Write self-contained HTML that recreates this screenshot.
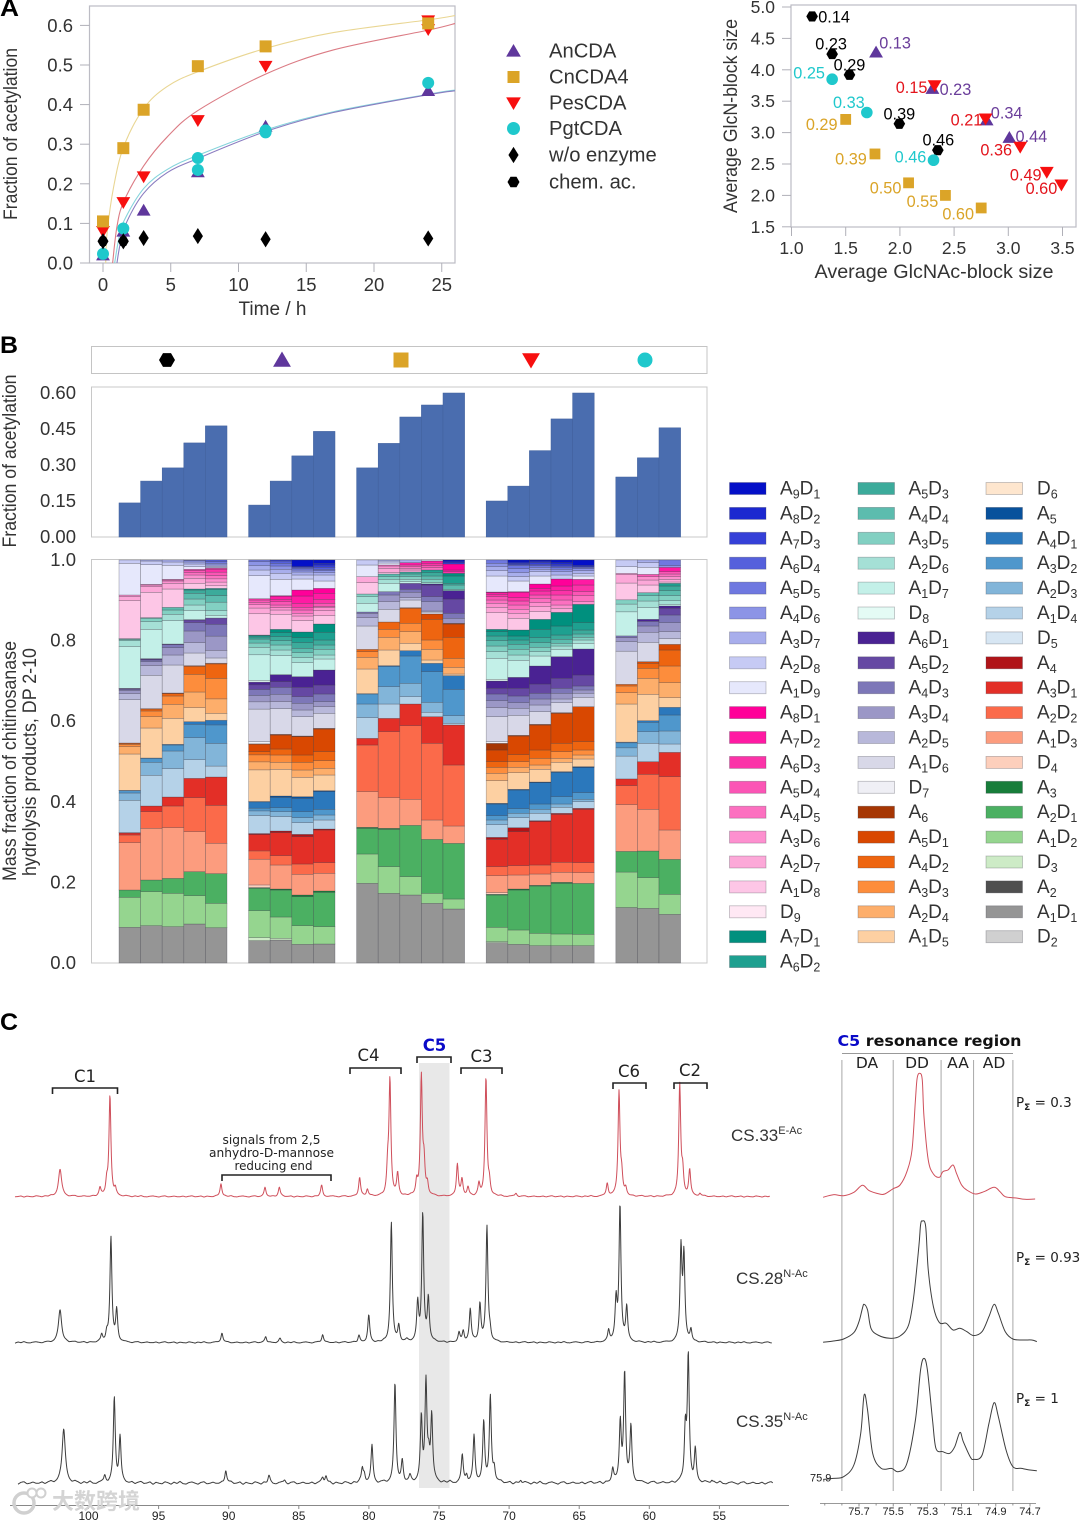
<!DOCTYPE html>
<html lang="en">
<head>
<meta charset="utf-8">
<title>Chitosan acetylation figure</title>
<style>
html,body{margin:0;padding:0;background:#fff;}
svg{display:block;font-family:"Liberation Sans","Noto Sans CJK SC",sans-serif;filter:blur(0.3px);}
.dj{font-family:"DejaVu Sans","Liberation Sans",sans-serif;}
</style>
</head>
<body>
<svg id="figure" xmlns="http://www.w3.org/2000/svg" width="1080" height="1521" viewBox="0 0 1080 1521">
  <rect x="0" y="0" width="1080" height="1521" fill="#fff"/>
  <text x="0" y="16" font-size="24" font-weight="bold" fill="#000" textLength="19" lengthAdjust="spacingAndGlyphs">A</text>
  <text x="0" y="353" font-size="24" font-weight="bold" fill="#000" textLength="18" lengthAdjust="spacingAndGlyphs">B</text>
  <text x="0" y="1030" font-size="24" font-weight="bold" fill="#000" textLength="18" lengthAdjust="spacingAndGlyphs">C</text>

  <!-- Panel A left -->
  <rect x="89.5" y="6" width="365.5" height="257" fill="#fff" stroke="#bcbcc4" stroke-width="1.2"/>
  <text transform="translate(17,134) rotate(-90)" text-anchor="middle" font-size="19" fill="#333" textLength="172" lengthAdjust="spacingAndGlyphs">Fraction of acetylation</text>
  <text x="272.5" y="315" text-anchor="middle" font-size="19" fill="#333">Time / h</text>
  <g id="timeAxes"></g>
  <g id="timeFits"></g>
  <g id="timePoints"></g>
  <g id="timeLegend"></g>

  <!-- Panel A right -->
  <rect x="791" y="5" width="285" height="222" fill="#fff" stroke="#bcbcc4" stroke-width="1.2"/>
  <text transform="translate(737,116) rotate(-90)" text-anchor="middle" font-size="19" fill="#333" textLength="194" lengthAdjust="spacingAndGlyphs">Average GlcN-block size</text>
  <text x="934" y="278" text-anchor="middle" font-size="19.5" fill="#333" textLength="239" lengthAdjust="spacingAndGlyphs">Average GlcNAc-block size</text>
  <g id="blockAxes"></g>
  <g id="blockPoints"></g>

  <!-- Panel B -->
  <rect x="91.5" y="346.5" width="615.5" height="27" fill="#fff" stroke="#c4c4c4" stroke-width="1"/>
  <g id="enzymeKey"></g>
  <rect x="91.5" y="387" width="615.5" height="150" fill="#fff" stroke="#c8c8c8" stroke-width="1"/>
  <rect x="91.5" y="559.5" width="615.5" height="403.5" fill="#fff" stroke="#c8c8c8" stroke-width="1"/>
  <text transform="translate(16,461) rotate(-90)" text-anchor="middle" font-size="19" fill="#333" textLength="173" lengthAdjust="spacingAndGlyphs">Fraction of acetylation</text>
  <text transform="translate(16,761) rotate(-90)" text-anchor="middle" font-size="19" fill="#333" textLength="240" lengthAdjust="spacingAndGlyphs">Mass fraction of chitinosanase</text>
  <text transform="translate(36,762) rotate(-90)" text-anchor="middle" font-size="19" fill="#333" textLength="228" lengthAdjust="spacingAndGlyphs">hydrolysis products, DP 2-10</text>
  <g id="barAxis"></g>
  <g id="bars"></g>
  <g id="stackAxis"></g>
  <g id="stacks"></g>
  <g id="stackLegend"></g>

  <!-- Panel C -->
  <rect x="419" y="1063" width="30.5" height="425" fill="#e8e8e8"/>
  <g id="spectra"></g>
  <g id="ppmAxis"></g>

  <g fill="none" stroke="#222" stroke-width="1.6">
    <path d="M52.5 1094V1088H117.5V1094"/>
    <path d="M350 1074V1068H401V1074"/>
    <path d="M417 1063V1057H451V1063"/>
    <path d="M461 1074V1068H502V1074"/>
    <path d="M613 1089V1083H646V1089"/>
    <path d="M674 1089V1083H707V1089"/>
    <path d="M222 1181V1175H331V1181"/>
  </g>
  <g class="dj" font-size="16.5" fill="#222" text-anchor="middle">
    <text x="85" y="1082">C1</text>
    <text x="368.5" y="1061">C4</text>
    <text x="434.5" y="1051" fill="#0a0ac8" font-weight="bold">C5</text>
    <text x="481.5" y="1062">C3</text>
    <text x="629" y="1077">C6</text>
    <text x="690" y="1076">C2</text>
  </g>
  <g class="dj" font-size="12" fill="#222" text-anchor="middle">
    <text x="271.5" y="1144" textLength="98" lengthAdjust="spacingAndGlyphs">signals from 2,5</text>
    <text x="271.5" y="1157" textLength="125" lengthAdjust="spacingAndGlyphs">anhydro-D-mannose</text>
    <text x="273.5" y="1170" textLength="78" lengthAdjust="spacingAndGlyphs">reducing end</text>
  </g>
  <g font-size="17" fill="#333">
    <text x="731" y="1141">CS.33<tspan font-size="11" dy="-7">E-Ac</tspan></text>
    <text x="736" y="1284">CS.28<tspan font-size="11" dy="-7">N-Ac</tspan></text>
    <text x="736" y="1427">CS.35<tspan font-size="11" dy="-7">N-Ac</tspan></text>
  </g>

  <!-- C5 inset -->
  <text class="dj" x="837.5" y="1046" font-size="15" font-weight="bold" fill="#111" textLength="184" lengthAdjust="spacingAndGlyphs"><tspan fill="#0a0ac8">C5</tspan> resonance region</text>
  <line x1="842" y1="1053.5" x2="1013" y2="1053.5" stroke="#999" stroke-width="1"/>
  <g class="dj" font-size="15.5" fill="#222" text-anchor="middle">
    <text x="867" y="1068">DA</text>
    <text x="917" y="1068">DD</text>
    <text x="958" y="1068">AA</text>
    <text x="994" y="1068">AD</text>
  </g>
  <g id="c5Dividers"></g>
  <g id="c5Traces"></g>
  <g id="c5Axis"></g>
  <g class="dj" font-size="13.5" fill="#222">
    <text x="1016" y="1107">P<tspan font-size="9" font-weight="bold" dy="3">Σ</tspan><tspan dy="-3"> = 0.3</tspan></text>
    <text x="1016" y="1262">P<tspan font-size="9" font-weight="bold" dy="3">Σ</tspan><tspan dy="-3"> = 0.93</tspan></text>
    <text x="1016" y="1403">P<tspan font-size="9" font-weight="bold" dy="3">Σ</tspan><tspan dy="-3"> = 1</tspan></text>
  </g>

  <!-- Watermark -->
  <g>
    <circle cx="24" cy="1503" r="10" fill="none" stroke="#d0d0d0" stroke-width="3.5"/>
    <circle cx="32" cy="1493" r="4.5" fill="#fff" stroke="#d0d0d0" stroke-width="2"/>
    <circle cx="41" cy="1493" r="4.5" fill="#fff" stroke="#d0d0d0" stroke-width="2"/>
    <text x="52" y="1509" font-size="22" font-weight="bold" fill="#d4d4d4" style="font-family:'Noto Sans CJK SC',sans-serif">大数跨境</text>
  </g>
</svg>

<script>
/* ---------- Panel A: time course data ---------- */
const timeTicks = [0, 5, 10, 15, 20, 25];
const fractionTicks = [0, 0.1, 0.2, 0.3, 0.4, 0.5, 0.6];
const anTimes = [0, 1.5, 3, 7, 12, 24];
const anValues = [0.02, 0.08, 0.133, 0.23, 0.345, 0.435];
const cnTimes = [0, 1.5, 3, 7, 12, 24];
const cnValues = [0.105, 0.29, 0.387, 0.497, 0.547, 0.605];
const pesTimes = [0, 1.5, 3, 7, 12, 24, 24];
const pesValues = [0.08, 0.153, 0.218, 0.36, 0.497, 0.59, 0.612];
const pgtTimes = [0, 1.5, 7, 7, 12, 12, 24];
const pgtValues = [0.023, 0.087, 0.265, 0.235, 0.335, 0.33, 0.455];
const noEnzymeTimes = [0, 1.5, 3, 7, 12, 24];
const noEnzymeValues = [0.055, 0.055, 0.063, 0.068, 0.06, 0.062];
const chemTimes = [0, 1.5];
const chemValues = [0.055, 0.055];
const cnFitTimes = [0.2, 0.3, 0.79, 1.53, 3, 4.7, 7, 12, 17, 24, 26];
const cnFitValues = [0, 0.075, 0.193, 0.294, 0.39, 0.445, 0.483, 0.542, 0.582, 0.614, 0.625];
const pesFitTimes = [0.71, 1.03, 1.53, 3, 4.73, 7, 12, 17, 24, 26];
const pesFitValues = [0, 0.092, 0.155, 0.245, 0.318, 0.385, 0.477, 0.538, 0.588, 0.605];
const pgtFitTimes = [0.86, 1.16, 1.53, 3, 4.73, 7, 12, 17, 24, 26];
const pgtFitValues = [0, 0.06, 0.105, 0.188, 0.236, 0.272, 0.336, 0.382, 0.426, 0.437];
const anFitTimes = [1.03, 1.28, 1.77, 3, 4.73, 7, 12, 17, 24, 26];
const anFitValues = [0, 0.05, 0.105, 0.176, 0.228, 0.264, 0.332, 0.38, 0.425, 0.435];
const timeLegendLabels = ['AnCDA', 'CnCDA4', 'PesCDA', 'PgtCDA', 'w/o enzyme', 'chem. ac.'];

/* ---------- Panel A: block size data ---------- */
const blockXTicks = [1.0, 1.5, 2.0, 2.5, 3.0, 3.5];
const blockYTicks = [1.5, 2.0, 2.5, 3.0, 3.5, 4.0, 4.5, 5.0];
const chemGlcNAc = [1.19, 1.375, 1.535, 1.995, 2.35];
const chemGlcN = [4.85, 4.25, 3.92, 3.14, 2.72];
const chemLabels = ['0.14', '0.23', '0.29', '0.39', '0.46'];
const anGlcNAc = [1.78, 2.3, 2.8, 3.01];
const anGlcN = [4.28, 3.7, 3.2, 2.92];
const anLabels = ['0.13', '0.23', '0.34', '0.44'];
const pesGlcNAc = [2.32, 2.79, 3.11, 3.355, 3.49];
const pesGlcN = [3.75, 3.22, 2.77, 2.37, 2.17];
const pesLabels = ['0.15', '0.21', '0.36', '0.49', '0.60'];
const pgtGlcNAc = [1.375, 1.695, 2.31];
const pgtGlcN = [3.85, 3.32, 2.56];
const pgtLabels = ['0.25', '0.33', '0.46'];
const cnGlcNAc = [1.5, 1.77, 2.08, 2.42, 2.75];
const cnGlcN = [3.21, 2.66, 2.2, 2.0, 1.8];
const cnLabels = ['0.29', '0.39', '0.50', '0.55', '0.60'];

/* ---------- Panel B data ---------- */
const barTicks = [0, 0.15, 0.30, 0.45, 0.60];
const stackTicks = [0, 0.2, 0.4, 0.6, 0.8, 1.0];
const chemBars = [0.142, 0.233, 0.288, 0.392, 0.463];
const anBars = [0.133, 0.233, 0.338, 0.44];
const cnBars = [0.288, 0.39, 0.5, 0.55, 0.6];
const pesBars = [0.15, 0.212, 0.36, 0.492, 0.6];
const pgtBars = [0.25, 0.33, 0.455];
const barGroups = [chemBars, anBars, cnBars, pesBars, pgtBars];

const legendNames = ['A9D1','A8D2','A7D3','A6D4','A5D5','A4D6','A3D7','A2D8','A1D9','A8D1','A7D2','A6D3','A5D4','A4D5','A3D6','A2D7','A1D8','D9','A7D1','A6D2','A5D3','A4D4','A3D5','A2D6','A1D7','D8','A6D1','A5D2','A4D3','A3D4','A2D5','A1D6','D7','A6','A5D1','A4D2','A3D3','A2D4','A1D5','D6','A5','A4D1','A3D2','A2D3','A1D4','D5','A4','A3D1','A2D2','A1D3','D4','A3','A2D1','A1D2','D3','A2','A1D1','D2'];
const legendColors = ['#0410c8','#1c28d0','#3540d8','#5560dc','#6f78e0','#8c94e6','#a8aeec','#c6caf4','#e6e8fc','#ff0099','#ff1aa3','#fb33a8','#fb55b5','#fc70c0','#fd90cf','#fca8d8','#fdc6e6','#ffe8f4','#00907e','#1ea090','#3cab9b','#5cbcae','#82d0c2','#a5e0d6','#c3f0e8','#e4fbf5','#4a2293','#6548a3','#7d77b8','#9b97c6','#b8b8da','#d8d8e8','#efeff5','#a63603','#d94801','#ee6510','#fd8d3c','#fdae6b','#fdd0a2','#fee6ce','#08519c','#2b78bc','#4f97cc','#82b5d9','#b5d2e8','#d7e6f3','#b01418','#e32f27','#fb6a4a','#fc9c7e','#fdcfbc','#177d3a','#4bb062','#95d58f','#cdebc6','#4f4f4f','#959595','#d0d0d0'];

/* Relative mass per product, bottom of stack to top, grouped by degree of polymerisation 2..10 */
const chem1 = [[0,107,0],[0,90,22,0],[0,142,23,6,1],[0,97,22,7,1,0],[0,109,22,7,3,1,0],[0,130,18,10,3,2,1],[0,125,18,4,1,1,0,0],[0,114,12,5,0,0,0,0,0],[95,10,0,0,0,0,0,0,0]];
const chem2 = [[0,112,0],[0,102,35,0],[0,155,50,17,0],[0,92,39,12,1,0],[0,90,34,17,6,1,0],[0,100,29,12,5,2,2],[0,88,23,10,2,0,0,0],[0,76,17,5,2,0,0,0,0],[59,11,3,0,0,0,0,0,0]];
const chem3 = [[0,109,0],[0,100,45,0],[0,152,65,27,0],[0,85,53,18,2,0],[0,78,42,25,7,2,0],[0,84,30,22,9,2,0],[0,70,19,13,8,0,0,0],[0,55,17,7,3,2,0,0,0],[42,10,6,0,0,0,0,0,0]];
const chem4 = [[0,117,0],[0,85,72,0],[0,120,102,58,0],[0,56,66,40,8,0],[0,42,47,53,24,2,0],[0,38,31,35,25,8,1],[0,27,17,18,17,10,3,0],[0,17,15,10,7,6,4,0,0],[8,8,6,4,2,0,0,0,0]];
const chem5 = [[0,107,0],[0,74,90,0],[0,92,115,86,0],[0,33,69,56,14,0],[0,21,44,62,44,2,0],[0,16,23,43,36,19,0],[0,8,15,25,20,18,4,0],[0,8,11,10,10,10,9,3,0],[2,4,4,5,5,5,0,0,0]];
const an1 = [[0,67,0],[9,81,67,2],[8,77,25,49,3],[0,54,14,8,19,1],[0,95,24,21,10,22,1],[7,97,22,19,18,14,8],[5,77,22,13,12,6,4,2],[0,64,17,10,7,7,4,0,0],[69,17,13,12,5,0,0,0,0]];
const an2 = [[0,69,0],[5,64,81,3],[0,72,28,69,5],[0,43,15,12,31,4],[0,80,21,22,18,42,2],[0,77,21,22,21,17,21],[0,57,17,15,13,12,12,10],[0,45,13,7,8,10,7,8,3],[49,18,12,10,8,7,3,0,0]];
const an3 = [[0,56,0],[0,56,87,5],[0,62,31,82,7],[0,35,15,18,40,5],[0,58,22,23,22,55,2],[0,58,20,20,20,28,32],[0,42,15,15,13,17,15,17],[0,34,14,8,10,8,12,22,18],[33,12,9,6,5,3,2,0,20]];
const an4 = [[0,57,0],[0,52,103,4],[0,53,32,98,3],[0,27,15,17,53,3],[0,47,20,23,27,68,2],[0,45,20,15,23,27,45],[0,33,12,17,13,15,23,25],[0,25,15,10,2,10,12,18,15],[22,18,7,6,4,6,7,5,10]];
const cn1 = [[0,239,0],[0,88,77,3],[0,107,140,20,0],[0,62,41,30,1,0],[0,74,35,17,7,0,0],[0,70,25,13,4,0,0],[0,26,20,8,0,0,0,0],[0,34,18,0,0,0,0,0,0],[35,15,0,0,0,0,0,0,0]];
const cn2 = [[0,209,0],[0,80,112,3],[0,92,198,40,0],[0,43,52,60,3,0],[0,47,38,24,22,0,0],[0,38,23,20,10,0,0],[0,25,12,8,8,0,0,0],[0,4,13,7,3,0,0,0,0],[6,6,3,0,0,0,0,0,0]];
const cn3 = [[0,204,0],[0,55,154,0],[0,78,221,65,0],[0,22,40,82,16,0],[0,22,35,25,45,2,0],[0,23,7,16,9,18,0],[0,5,7,8,8,6,0,0],[0,0,6,5,5,5,0,7,0],[0,0,8,0,0,0,0,0,0]];
const cn4 = [[0,179,0],[0,30,162,0],[0,58,230,80,0],[0,13,30,92,25,0],[0,10,32,28,62,16,0],[0,6,3,28,15,35,3],[0,0,4,10,10,10,8,0],[0,0,0,0,7,6,7,7,0],[3,0,0,0,0,0,0,0,0]];
const cn5 = [[0,162,0],[0,30,167,0],[0,52,183,120,0],[0,5,23,79,41,0],[0,5,20,27,63,40,2],[0,0,0,15,15,43,25],[0,0,0,4,13,5,22,8],[0,0,0,0,0,0,5,5,18],[0,0,0,0,0,0,4,5,3]];
const pes1 = [[0,61,0],[3,43,97,2],[5,51,27,82,6],[0,38,14,13,35,2],[0,68,22,18,17,35,20],[5,75,27,21,20,17,22],[5,63,20,17,16,14,13,7],[0,50,16,12,10,10,7,5,2],[48,16,12,10,10,0,0,0,0]];
const pes2 = [[0,56,0],[0,43,120,3],[0,42,28,102,12],[0,30,13,14,56,2],[0,50,16,17,21,56,2],[0,60,21,17,20,23,33],[0,51,16,17,15,13,12,18],[0,35,15,12,13,12,10,15,3],[32,13,12,12,10,2,4,4,6]];
const pes3 = [[0,52,0],[0,37,142,2],[0,34,27,130,3],[0,22,12,16,64,2],[0,38,13,20,25,75,2],[0,38,20,18,17,28,54],[0,30,13,13,14,15,25,30],[0,23,15,12,13,10,12,8,13],[24,13,7,6,5,4,6,4,3]];
const pes4 = [[0,52,0],[0,35,152,3],[0,30,30,144,3],[0,18,10,22,73,2],[0,28,12,20,25,90,2],[0,30,11,17,15,30,65],[0,22,10,8,12,13,27,41],[0,0,12,10,15,15,13,14,21],[0,12,10,7,6,4,5,5,8]];
const pes5 = [[0,52,0],[0,34,153,0],[0,32,30,160,3],[0,20,7,20,75,3],[0,23,12,15,25,105,0],[0,28,12,10,12,33,78],[0,17,10,8,10,12,22,55],[0,0,0,8,18,12,20,17,0],[10,8,8,6,4,2,0,4,16]];
const pgt1 = [[0,166,0],[0,106,62,0],[0,140,57,20,0],[0,68,25,15,2,0],[0,114,34,20,5,0,0],[0,99,29,12,5,0,0],[0,72,23,13,0,0,0,0],[0,50,25,4,0,0,0,0,0],[20,20,0,0,0,0,0,0,0]];
const pgt2 = [[0,164,0],[0,92,80,0],[0,125,105,38,0],[0,55,35,28,5,0],[0,79,48,30,15,5,0],[0,58,30,19,14,0,6],[0,35,20,16,9,0,0,0],[0,23,15,10,0,7,0,0,0],[21,14,8,0,0,0,0,0,0]];
const pgt3 = [[0,146,0],[0,60,105,0],[0,88,160,73,0],[0,25,39,48,23,0],[0,29,45,50,48,17,0],[0,17,21,27,23,20,7],[0,5,11,15,15,14,8,0],[0,4,8,8,8,7,0,13,0],[0,0,0,5,17,0,0,0,0]];
const stackGroups = [[chem1,chem2,chem3,chem4,chem5],[an1,an2,an3,an4],[cn1,cn2,cn3,cn4,cn5],[pes1,pes2,pes3,pes4,pes5],[pgt1,pgt2,pgt3]];

/* ---------- Panel C data: peak lists ---------- */
const ppmTicks = [100, 95, 90, 85, 80, 75, 70, 65, 60, 55];
const redPeakPpm = [102.03,99.18,98.70,98.47,98.09,90.55,87.41,86.39,83.37,80.66,80.11,78.66,78.50,77.95,76.59,76.26,76.07,75.83,73.69,73.36,72.93,72.15,71.65,71.41,69.51,63.0,62.16,61.97,61.68,57.83,57.62,57.12,56.39];
const redPeakHeight = [27,8,13,100,7,13,9,9,11,19,7,25,115,22,14,118,30,11,32,16,9,12,118,12,3,13,104,18,7,111,22,26,3];
const cs28PeakPpm = [102.03,99.06,98.70,98.40,97.99,90.48,87.36,86.34,83.30,80.71,80.01,78.40,77.87,77.30,76.52,76.16,75.76,73.57,73.27,72.77,72.08,71.58,71.36,62.90,62.37,62.09,61.61,57.74,57.53,57.03];
const cs28PeakHeight = [33,7,8,105,32,10,6,4,8,7,27,120,16,2,38,128,43,9,11,33,38,115,8,12,40,136,35,92,84,12];
const cs35PeakPpm = [101.77,98.84,98.16,97.75,90.21,87.13,86.01,83.30,83.06,80.47,80.33,79.78,78.14,77.62,77.07,76.26,75.93,75.73,75.52,73.34,73.03,72.50,71.81,71.34,71.06,69.17,62.61,62.07,61.76,61.31,57.43,57.22,56.72,55.55];
const cs35PeakHeight = [55,7,84,46,13,7,3,5,7,14,8,37,100,21,6,64,98,20,66,27,7,46,60,86,13,3,14,60,108,55,52,125,33,3];
const baselineRipple = [0.3,-0.4,0.6,-0.2,-0.7,0.4,0.1,-0.5,0.8,-0.3,0.2,0.5,-0.6,-0.1,0.7,-0.4,0.3,-0.8,0.4,0.6,-0.2,-0.5,0.1,0.7,-0.3,-0.6,0.5,0.2,-0.4,0.3];

/* ---------- C5 inset traces ---------- */
const c5Ticks = [75.7, 75.5, 75.3, 75.1, 74.9, 74.7];
const c5MinorTicks = [75.9, 75.8, 75.6, 75.4, 75.2, 75.0, 74.8];
const c5DividerPpm = [75.8, 75.5, 75.22, 75.03, 74.8];
const cs33C5Ppm = [75.91,75.85,75.79,75.73,75.68,75.64,75.58,75.55,75.50,75.46,75.42,75.39,75.37,75.36,75.345,75.33,75.32,75.295,75.265,75.23,75.21,75.18,75.15,75.13,75.10,75.07,75.02,74.97,74.91,74.875,74.845,74.78,74.73,74.67];
const cs33C5Intensity = [2.7,5.3,4.3,7.7,14.7,9.3,6,6,11.3,15,28.3,50,100,121.7,126.7,120,83.3,40,26,22.7,28.3,30,35,26.7,15,10,6,8.3,12.7,8.3,3.3,2,0.7,1];
const cs28C5Ppm = [75.91,75.85,75.79,75.73,75.70,75.68,75.67,75.65,75.63,75.59,75.52,75.46,75.41,75.38,75.35,75.34,75.33,75.31,75.295,75.265,75.23,75.19,75.15,75.11,75.07,75.03,74.98,74.94,74.91,74.885,74.845,74.80,74.74,74.69,74.66];
const cs28C5Intensity = [1,2.3,4.3,10.7,21.7,35,39,33.3,15,8.3,5,7.3,18.3,46.7,96.7,118.3,122.3,116.7,73.3,36.7,20.7,20,13.3,15,11.7,7.7,11.7,26.7,39,30,11.7,4.3,3.3,3.3,1.7];
const cs35C5Ppm = [75.91,75.85,75.79,75.73,75.69,75.67,75.65,75.62,75.57,75.51,75.47,75.42,75.37,75.34,75.32,75.30,75.27,75.25,75.21,75.17,75.14,75.11,75.09,75.05,75.03,74.98,74.94,74.91,74.885,74.84,74.80,74.75,74.70,74.66];
const cs35C5Intensity = [2.3,3.3,5,16.7,48.3,86.7,71.7,28.3,13.3,13.3,10,18.3,61.7,111.7,123.3,111.7,61.7,33.3,30,28.3,35,49.3,40,25,22.3,26.7,58.3,79,65,31.7,15,13.3,11.7,11];

/* ---------- Axis functions ---------- */
const xTime = t => 103 + t * 13.55;
const yFraction = v => 263 - v * 396;
const xBlock = v => 791.5 + (v - 1) * 108.4;
const yBlock = v => 7 + (5 - v) * 62.8;
const yBar = v => 537 - v * 240;
const yStack = v => 963 - v * 403;
const slotX = s => 119 + s * 21.6;
const xPpm = p => 88.5 + (100 - p) * 14.02;
const xC5 = p => 859 + (75.7 - p) * 171;

/* ---------- Helpers ---------- */
const NS = 'http://www.w3.org/2000/svg';
function make(tag, attrs, parent) {
  const el = document.createElementNS(NS, tag);
  for (const k in attrs) el.setAttribute(k, attrs[k]);
  parent.appendChild(el);
  return el;
}
const byId = id => document.getElementById(id);
const COLORS = { an: '#5f379c', cn: '#dba428', pes: '#f70f0f', pgt: '#1fc8cc', black: '#000' };
function markerPath(shape, cx, cy, s) {
  if (shape === 'up') return `M${cx} ${cy - s}L${cx + s * 1.05} ${cy + s * 0.8}L${cx - s * 1.05} ${cy + s * 0.8}Z`;
  if (shape === 'down') return `M${cx} ${cy + s}L${cx + s * 1.05} ${cy - s * 0.8}L${cx - s * 1.05} ${cy - s * 0.8}Z`;
  if (shape === 'square') return `M${cx - s} ${cy - s}H${cx + s}V${cy + s}H${cx - s}Z`;
  if (shape === 'diamond') return `M${cx} ${cy - s * 1.35}L${cx + s * 0.85} ${cy}L${cx} ${cy + s * 1.35}L${cx - s * 0.85} ${cy}Z`;
  if (shape === 'hex') {
    let d = '';
    for (let i = 0; i < 6; i++) {
      const a = Math.PI / 3 * i;
      d += (i ? 'L' : 'M') + (cx + s * Math.cos(a)).toFixed(2) + ' ' + (cy + s * Math.sin(a)).toFixed(2);
    }
    return d + 'Z';
  }
  return `M${cx - s} ${cy}A${s} ${s} 0 1 0 ${cx + s} ${cy}A${s} ${s} 0 1 0 ${cx - s} ${cy}Z`;
}
function smoothPath(pts) {
  let d = `M${pts[0][0].toFixed(2)} ${pts[0][1].toFixed(2)}`;
  for (let i = 0; i < pts.length - 1; i++) {
    const p0 = pts[Math.max(i - 1, 0)], p1 = pts[i], p2 = pts[i + 1], p3 = pts[Math.min(i + 2, pts.length - 1)];
    const c1x = p1[0] + (p2[0] - p0[0]) / 6, c1y = p1[1] + (p2[1] - p0[1]) / 6;
    const c2x = p2[0] - (p3[0] - p1[0]) / 6, c2y = p2[1] - (p3[1] - p1[1]) / 6;
    d += `C${c1x.toFixed(2)} ${c1y.toFixed(2)} ${c2x.toFixed(2)} ${c2y.toFixed(2)} ${p2[0].toFixed(2)} ${p2[1].toFixed(2)}`;
  }
  return d;
}

/* ---------- Panel A left ---------- */
(function () {
  const ax = byId('timeAxes');
  timeTicks.forEach(t => {
    const tick = make('line', { x1: xTime(t), x2: xTime(t), y1: 263, y2: 272, stroke: '#b0b0b8', 'stroke-width': 1 }, ax);
    
    
    const lab = make('text', { x: xTime(t), y: 291, 'text-anchor': 'middle', 'font-size': 18.5, fill: '#333' }, ax);
    
    
    lab.textContent = t;
  });
  fractionTicks.forEach(v => {
    const tick = make('line', { x1: 80, x2: 89.5, y1: yFraction(v), y2: yFraction(v), stroke: '#b0b0b8', 'stroke-width': 1 }, ax);
    
    
    const lab = make('text', { x: 73, y: yFraction(v) + 6.5, 'text-anchor': 'end', 'font-size': 18.5, fill: '#333' }, ax);
    
    
    lab.textContent = v.toFixed(1);
  });

  const clip = make('clipPath', { id: 'timeClip' }, byId('timeFits'));
  make('rect', { x: 90, y: 6, width: 365, height: 257 }, clip);
  const fits = [
    [cnFitTimes, cnFitValues, '#e9d693', 'fit-curve-cncda4'],
    [pesFitTimes, pesFitValues, '#db7b84', 'fit-curve-pescda'],
    [pgtFitTimes, pgtFitValues, '#85d4dc', 'fit-curve-pgtcda'],
    [anFitTimes, anFitValues, '#8a7cc0', 'fit-curve-ancda']
  ];
  fits.forEach(f => {
    const pts = f[0].map((t, i) => [xTime(t), yFraction(f[1][i])]);
    const line = make('path', { d: smoothPath(pts), fill: 'none', stroke: f[2], 'stroke-width': 1.1, 'clip-path': 'url(#timeClip)' }, byId('timeFits'));
    
    
  });

  const series = [
    [anTimes, anValues, 'up', COLORS.an, 6.6, 'point-ancda'],
    [pesTimes, pesValues, 'down', COLORS.pes, 6.6, 'point-pescda'],
    [cnTimes, cnValues, 'square', COLORS.cn, 6, 'point-cncda4'],
    [pgtTimes, pgtValues, 'circle', COLORS.pgt, 6, 'point-pgtcda'],
    [chemTimes, chemValues, 'hex', COLORS.black, 5.5, 'point-chem-ac'],
    [noEnzymeTimes, noEnzymeValues, 'diamond', COLORS.black, 6, 'point-no-enzyme']
  ];
  series.forEach(s => {
    s[0].forEach((t, i) => {
      const m = make('path', { d: markerPath(s[2], xTime(t), yFraction(s[1][i]), s[4]), fill: s[3] }, byId('timePoints'));
      
      
    });
  });

  const legendShapes = [['up', COLORS.an, 7], ['square', COLORS.cn, 6], ['down', COLORS.pes, 7], ['circle', COLORS.pgt, 6.5], ['diamond', '#000', 6], ['hex', '#000', 6]];
  const legendY = [51, 77, 103, 128.5, 155, 182];
  timeLegendLabels.forEach((label, i) => {
    const m = make('path', { d: markerPath(legendShapes[i][0], 513.5, legendY[i], legendShapes[i][2]), fill: legendShapes[i][1] }, byId('timeLegend'));
    
    
    const t = make('text', { x: 549, y: legendY[i] + 6.5, 'font-size': 20.2, fill: '#333' }, byId('timeLegend'));
    
    
    t.textContent = label;
  });
})();

/* ---------- Panel A right ---------- */
(function () {
  const ax = byId('blockAxes');
  blockXTicks.forEach(v => {
    const tick = make('line', { x1: xBlock(v), x2: xBlock(v), y1: 227, y2: 236, stroke: '#b0b0b8', 'stroke-width': 1 }, ax);
    
    
    const lab = make('text', { x: xBlock(v), y: 254, 'text-anchor': 'middle', 'font-size': 17.5, fill: '#333' }, ax);
    
    
    lab.textContent = v.toFixed(1);
  });
  blockYTicks.forEach(v => {
    const tick = make('line', { x1: 782, x2: 791, y1: yBlock(v), y2: yBlock(v), stroke: '#b0b0b8', 'stroke-width': 1 }, ax);
    
    
    const lab = make('text', { x: 775, y: yBlock(v) + 6, 'text-anchor': 'end', 'font-size': 17.5, fill: '#333' }, ax);
    
    
    lab.textContent = v.toFixed(1);
  });
  const labelDx = { chem: [22, -1, 0, 0, 0.5], an: [19, 23, 20, 22], pes: [-23, -19, -24, -21, -20], pgt: [-23, -18, -23], cn: [-24, -24, -23, -23, -23] };
  const labelDy = { chem: [0.5, -10, -10, -10, -10], an: [-9, 1, -7, -1], pes: [2, 1, 3, 3, 4], pgt: [-6, -10, -3], cn: [5, 5, 5, 6, 6] };
  const groups = [
    ['chem', chemGlcNAc, chemGlcN, chemLabels, 'hex', '#000', '#000', 5.8],
    ['cn', cnGlcNAc, cnGlcN, cnLabels, 'square', COLORS.cn, '#daa428', 5.4],
    ['an', anGlcNAc, anGlcN, anLabels, 'up', COLORS.an, '#6a3d9a', 6.6],
    ['pes', pesGlcNAc, pesGlcN, pesLabels, 'down', COLORS.pes, '#e3141c', 6.6],
    ['pgt', pgtGlcNAc, pgtGlcN, pgtLabels, 'circle', COLORS.pgt, '#1fc8cc', 5.8]
  ];
  groups.forEach(g => {
    g[1].forEach((v, i) => {
      const cx = xBlock(v), cy = yBlock(g[2][i]);
      const m = make('path', { d: markerPath(g[4], cx, cy, g[7]), fill: g[5] }, byId('blockPoints'));
      
      
      const t = make('text', { x: cx + labelDx[g[0]][i], y: cy + labelDy[g[0]][i] + 5.5, 'text-anchor': 'middle', 'font-size': 16.3, fill: g[6] }, byId('blockPoints'));
      
      
      t.textContent = g[3][i];
    });
  });
})();

/* ---------- Panel B ---------- */
(function () {
  const keyShapes = [['hex', '#000', 8], ['up', COLORS.an, 8.5], ['square', COLORS.cn, 7.5], ['down', COLORS.pes, 8.5], ['circle', COLORS.pgt, 7.5]];
  const keyX = [167, 282, 401, 531, 645];
  keyShapes.forEach((k, i) => {
    const m = make('path', { d: markerPath(k[0], keyX[i], 360, k[2]), fill: k[1] }, byId('enzymeKey'));
    
    
  });

  barTicks.forEach(v => {
    const lab = make('text', { x: 76, y: yBar(v) + 6, 'text-anchor': 'end', 'font-size': 18.5, fill: '#333' }, byId('barAxis'));
    
    
    lab.textContent = v.toFixed(2);
  });
  stackTicks.forEach(v => {
    const lab = make('text', { x: 76, y: yStack(v) + 6, 'text-anchor': 'end', 'font-size': 18.5, fill: '#333' }, byId('stackAxis'));
    
    
    lab.textContent = v.toFixed(1);
  });

  /* bars */
  let slot = 0;
  barGroups.forEach(group => {
    group.forEach(v => {
      const b = make('rect', { x: slotX(slot), y: yBar(v), width: 21.6, height: yBar(0) - yBar(v), fill: '#4a6daf', stroke: '#41609c', 'stroke-width': 0.5 }, byId('bars'));
      
      
      slot++;
    });
    slot++;
  });

  /* stacks: bottom-most product first, so legend order reversed */
  const stackColors = legendColors.slice().reverse();
  const stackNames = legendNames.slice().reverse();
  slot = 0;
  stackGroups.forEach(group => {
    group.forEach(column => {
      const vals = column.flat();
      const total = vals.reduce((a, b) => a + b, 0);
      let cum = 0;
      vals.forEach((v, i) => {
        if (v > 0) {
          const top = yStack((cum + v) / total), bottom = yStack(cum / total);
          const seg = make('rect', { x: slotX(slot), y: top, width: 21.6, height: bottom - top, fill: stackColors[i], stroke: 'rgba(60,60,70,0.45)', 'stroke-width': 0.6 }, byId('stacks'));
          
          
        }
        cum += v;
      });
      slot++;
    });
    slot++;
  });

  /* legend */
  const colStart = [0, 20, 39];
  const colSwatchX = [729.5, 858, 986];
  const colTextX = [780, 908.5, 1037];
  legendNames.forEach((name, i) => {
    const col = i >= colStart[2] ? 2 : i >= colStart[1] ? 1 : 0;
    const row = i - colStart[col];
    const y = 488.5 + row * 24.9;
    const sw = make('rect', { x: colSwatchX[col], y: y - 6, width: 36.5, height: 12, fill: legendColors[i], stroke: 'rgba(70,70,80,0.35)', 'stroke-width': 0.8 }, byId('stackLegend'));
    
    
    const t = make('text', { x: colTextX[col], y: y + 6, 'font-size': 19, fill: '#333' }, byId('stackLegend'));
    
    
    (name.match(/[AD]\d/g)).forEach(tok => {
      const big = make('tspan', { dy: t.childNodes.length ? -4 : 0 }, t);
      big.textContent = tok[0];
      const sub = make('tspan', { dy: 4, 'font-size': 12.5 }, t);
      sub.textContent = tok[1];
    });
  });
})();

/* ---------- Panel C ---------- */
(function () {
  const spectra = [
    [redPeakPpm, redPeakHeight, 1196.5, '#cf4f5b', 15, 770, 0.9, 0, 'spectrum-cs33'],
    [cs28PeakPpm, cs28PeakHeight, 1342.5, '#3d3d3d', 15, 772, 1.0, 9, 'spectrum-cs28'],
    [cs35PeakPpm, cs35PeakHeight, 1483, '#3d3d3d', 18, 773, 1.9, 17, 'spectrum-cs35']
  ];
  spectra.forEach(s => {
    let d = '';
    for (let x = s[4]; x <= s[5]; x += 0.4) {
      let y = 0;
      s[0].forEach((p, i) => {
        const dx = x - xPpm(p);
        const g = (s[1][i] < 60 && i === 0) ? 1.9 : 1.15;
        y += s[1][i] * g * g / (dx * dx + g * g);
      });
      const rp = x / 3 + s[7];
      const k = Math.floor(rp), f = rp - k, n = baselineRipple.length;
      const r = baselineRipple[k % n] * (1 - f) + baselineRipple[(k + 1) % n] * f;
      d += (d ? 'L' : 'M') + x.toFixed(1) + ' ' + (s[2] - y + r * s[6]).toFixed(1);
    }
    const line = make('path', { d: d, fill: 'none', stroke: s[3], 'stroke-width': 1, 'stroke-linejoin': 'round' }, byId('spectra'));
    
    
  });

  const axis = make('line', { x1: 10, x2: 789, y1: 1505.5, y2: 1505.5, stroke: '#888', 'stroke-width': 1 }, byId('ppmAxis'));
  
  
  ppmTicks.forEach(p => {
    const tick = make('line', { x1: xPpm(p), x2: xPpm(p), y1: 1505.5, y2: 1509, stroke: '#888', 'stroke-width': 1 }, byId('ppmAxis'));
    
    
    const lab = make('text', { x: xPpm(p), y: 1520, 'text-anchor': 'middle', 'font-size': 12, fill: '#222' }, byId('ppmAxis'));
    
    
    lab.textContent = p;
  });

  c5DividerPpm.forEach(p => {
    const l = make('line', { x1: xC5(p), x2: xC5(p), y1: 1060, y2: 1491, stroke: '#a8a8a8', 'stroke-width': 1 }, byId('c5Dividers'));
    
    
  });

  const traces = [
    [cs33C5Ppm, cs33C5Intensity, 1200, '#cf4f5b', 'c5-trace-cs33'],
    [cs28C5Ppm, cs28C5Intensity, 1343.3, '#3d3d3d', 'c5-trace-cs28'],
    [cs35C5Ppm, cs35C5Intensity, 1481.7, '#3d3d3d', 'c5-trace-cs35']
  ];
  traces.forEach(t => {
    const pts = t[0].map((p, i) => [xC5(p), t[2] - t[1][i]]);
    const line = make('path', { d: smoothPath(pts), fill: 'none', stroke: t[3], 'stroke-width': 1 }, byId('c5Traces'));
    
    
  });

  const c5Line = make('line', { x1: 820, x2: 1036, y1: 1503.5, y2: 1503.5, stroke: '#777', 'stroke-width': 0.8 }, byId('c5Axis'));
  
  
  c5MinorTicks.forEach(p => {
    const tick = make('line', { x1: xC5(p), x2: xC5(p), y1: 1503.5, y2: 1505.5, stroke: '#777', 'stroke-width': 0.8 }, byId('c5Axis'));
    
    
  });
  c5Ticks.forEach(p => {
    const tick = make('line', { x1: xC5(p), x2: xC5(p), y1: 1503.5, y2: 1506.5, stroke: '#777', 'stroke-width': 0.8 }, byId('c5Axis'));
    
    
    const lab = make('text', { x: xC5(p), y: 1515, 'text-anchor': 'middle', 'font-size': 11, fill: '#222' }, byId('c5Axis'));
    
    
    lab.textContent = p.toFixed(1);
  });
  const far = make('text', { x: 810, y: 1481.5, 'font-size': 11, fill: '#222' }, byId('c5Axis'));
  
  
  far.textContent = '75.9';
})();
</script>
</body>
</html>
